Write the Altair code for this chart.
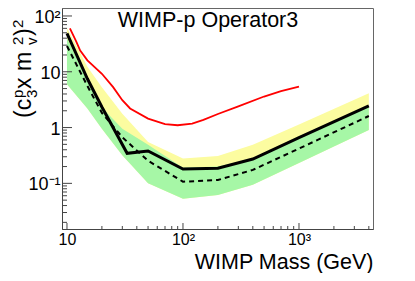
import altair as alt
import pandas as pd

# ---------------- data ----------------
band_mass = [10, 15, 20, 30, 50, 100, 200, 400, 1000, 4000]
yellow_hi = [61, 12.3, 5.3, 1.77, 0.55, 0.28, 0.31, 0.49, 1.14, 4.1]
green_hi  = [40, 7.0, 2.3, 0.95, 0.49, 0.19, 0.20, 0.28, 0.70, 2.4]
green_lo  = [6.0, 2.2, 0.95, 0.32, 0.10, 0.053, 0.062, 0.094, 0.232, 0.906]
expected  = [29, 5.57, 1.83, 0.67, 0.254, 0.107, 0.115, 0.174, 0.42, 1.61]

obs_mass = [10, 15, 20, 33, 50, 100, 200, 400, 1000, 4000]
observed = [49, 7.5, 2.34, 0.346, 0.38, 0.18, 0.186, 0.273, 0.66, 2.44]

red_mass = [10.6, 12, 13, 15, 20, 25, 30, 35, 50, 70, 90, 120, 150, 200, 300, 500, 700, 1000]
red_vals = [60, 35, 24, 16, 9.2, 5.3, 3.1, 2.2, 1.45, 1.15, 1.1, 1.18, 1.37, 1.75, 2.4, 3.6, 4.5, 5.4]

x_major = [10, 100, 1000]
x_minor = [20, 30, 40, 50, 60, 70, 80, 90, 200, 300, 400, 500, 600, 700, 800, 900, 2000, 3000, 4000]
y_major = [0.1, 1, 10, 100]
y_minor = [0.02, 0.03, 0.04, 0.05, 0.06, 0.07, 0.08, 0.09,
           0.2, 0.3, 0.4, 0.5, 0.6, 0.7, 0.8, 0.9,
           2, 3, 4, 5, 6, 7, 8, 9, 20, 30, 40, 50, 60, 70, 80, 90]

# ---------------- layout ----------------
FONT = "Liberation Sans"
W, H = 311, 221
XDOM = [9.06, 4345]
YDOM = [0.0152, 139]

bands = pd.DataFrame({"mass": band_mass, "yhi": yellow_hi, "ghi": green_hi,
                      "glo": green_lo, "exp": expected})
obs = pd.DataFrame({"mass": obs_mass, "v": observed})
red = pd.DataFrame({"mass": red_mass, "v": red_vals})

xs = alt.Scale(type="log", domain=XDOM, nice=False)
ys = alt.Scale(type="log", domain=YDOM, nice=False)

x_axis = alt.Axis(values=x_major, ticks=False, grid=False, labelFont=FONT, labelFontSize=16,
                  labelColor="black", labelPadding=2, domainColor="#444",
                  labelExpr="datum.value == 100 ? '10²' : datum.value == 1000 ? '10³' : '10'",
                  title="WIMP Mass (GeV)", titleFont=FONT, titleFontSize=21.5, titleFontWeight="normal",
                  titleColor="black", titleAnchor="end", titleAlign="right", titleBaseline="alphabetic",
                  titleX=W, titleY=39.5)
y_axis = alt.Axis(values=y_major, ticks=False, grid=False, labelFont=FONT, labelFontSize=18,
                  labelColor="black", labelPadding=2, labelOffset=1.5, domainColor="#444", title=None,
                  labelExpr="datum.value == 100 ? '10²' : datum.value == 10 ? '10' : datum.value == 1 ? '1' : '10⁻¹'")

X = alt.X("mass:Q", scale=xs, axis=x_axis)

def Y(field):
    return alt.Y(field, type="quantitative", scale=ys, axis=y_axis)

yellow = alt.Chart(bands).mark_area(color="#fcfca0", clip=True).encode(
    x=X, y=Y("glo"), y2="yhi:Q")
green = alt.Chart(bands).mark_area(color="#a6f7a6", clip=True).encode(
    x=X, y=Y("glo"), y2="ghi:Q")
exp_line = alt.Chart(bands).mark_line(color="black", strokeWidth=2, strokeDash=[5, 4], clip=True).encode(
    x=X, y=Y("exp"))
obs_line = alt.Chart(obs).mark_line(color="black", strokeWidth=3, clip=True).encode(
    x=X, y=Y("v"))
red_line = alt.Chart(red).mark_line(color="#ff0000", strokeWidth=1.8, clip=True).encode(
    x=X, y=Y("v"))

def xticks(vals, ln):
    d = pd.DataFrame({"mass": vals})
    return alt.Chart(d).mark_rule(color="#444", strokeWidth=1).encode(
        x=X, y=alt.value(H), y2=alt.value(H - ln))

def yticks(vals, ln):
    d = pd.DataFrame({"v": vals})
    return alt.Chart(d).mark_rule(color="#444", strokeWidth=1).encode(
        y=Y("v"), x=alt.value(0), x2=alt.value(ln))

one = pd.DataFrame({"a": [0]})

def txt(s, x, y, size, angle=0, align="left", baseline="alphabetic"):
    return alt.Chart(one).mark_text(text=s, font=FONT, fontSize=size, angle=angle,
                                    align=align, baseline=baseline, color="black").encode(
        x=alt.value(x), y=alt.value(y))

title = txt("WIMP-p Operator3", 146, 19, 21.5, align="center")

ytitle = [
    txt("(c", -31, 110, 23, angle=270),
    txt("3", -25, 90, 15, angle=270),
    txt("p", -39, 90, 15, angle=270),
    txt(" x m", -31, 81, 23, angle=270),
    txt("v", -25, 37, 15, angle=270),
    txt("2", -39, 37, 15, angle=270),
    txt(")", -31, 28, 23, angle=270),
    txt("2", -39, 20, 15, angle=270),
]

chart = alt.layer(
    yellow, green, red_line, exp_line, obs_line,
    xticks(x_major, 6), xticks(x_minor, 3), yticks(y_major, 10), yticks(y_minor, 5),
    title, *ytitle
).properties(
    width=W, height=H,
    padding={"left": 54, "top": 0, "right": 34, "bottom": 44},
    autosize=alt.AutoSizeParams(type="none"),
).configure_view(stroke="#666", strokeWidth=1)

chart.save("out.html", embed_options={"renderer": "svg", "actions": False})
